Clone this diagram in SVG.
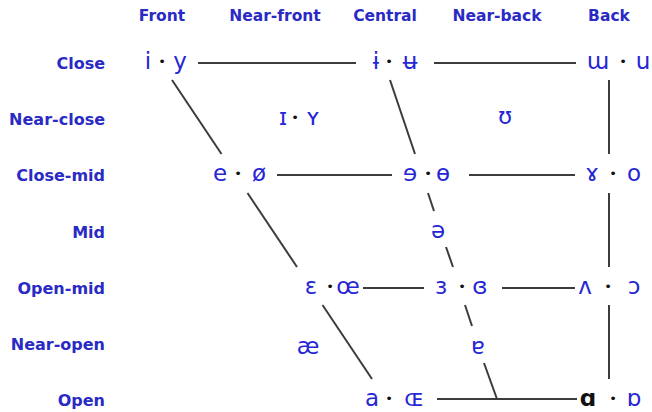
<svg xmlns="http://www.w3.org/2000/svg" width="652" height="412" viewBox="0 0 652 412">
<style>
.hdr{font-family:"DejaVu Sans",Verdana,sans-serif;font-weight:bold;font-size:15.5px;fill:#2a2ac4;text-anchor:middle}
.row{font-family:"DejaVu Sans",Verdana,sans-serif;font-weight:bold;font-size:16px;fill:#2a2ac4;text-anchor:end}
.v{font-family:"DejaVu Sans",sans-serif;font-size:23px;fill:#2626d4;text-anchor:middle}
.d{font-size:13px;fill:#111}
.b{font-weight:bold;fill:#111}
.ln line{stroke:#3c3c3c;stroke-width:2}
</style>
<rect width="652" height="412" fill="#fff"/>
<g id="headers">
<text class="hdr" x="162" y="21">Front</text>
<text class="hdr" x="275" y="21">Near-front</text>
<text class="hdr" x="385" y="21">Central</text>
<text class="hdr" x="497" y="21">Near-back</text>
<text class="hdr" x="609" y="21">Back</text>
</g>
<g id="rows">
<text class="row" x="105" y="69">Close</text>
<text class="row" x="105" y="125">Near-close</text>
<text class="row" x="105" y="181">Close-mid</text>
<text class="row" x="105" y="238">Mid</text>
<text class="row" x="105" y="294">Open-mid</text>
<text class="row" x="105" y="350">Near-open</text>
<text class="row" x="105" y="406">Open</text>
</g>
<g id="connectors" class="ln">
<line x1="198" y1="63" x2="356" y2="63"/>
<line x1="434" y1="63" x2="576" y2="63"/>
<line x1="277" y1="175" x2="392" y2="175"/>
<line x1="469" y1="175" x2="575" y2="175"/>
<line x1="363" y1="288" x2="424" y2="288"/>
<line x1="502" y1="288" x2="575" y2="288"/>
<line x1="437" y1="399" x2="577" y2="399"/>
<line x1="609" y1="80" x2="609" y2="154"/>
<line x1="609" y1="193" x2="609" y2="267"/>
<line x1="609" y1="305" x2="609" y2="379"/>
<line x1="172" y1="80" x2="221.5" y2="154"/>
<line x1="247.5" y1="193" x2="297" y2="267"/>
<line x1="322.5" y1="305" x2="372" y2="379"/>
<line x1="390" y1="80" x2="415" y2="154"/>
<line x1="428" y1="193" x2="434" y2="211"/>
<line x1="446" y1="247" x2="453" y2="267"/>
<line x1="465" y1="305" x2="472" y2="326"/>
<line x1="484" y1="363" x2="497" y2="399"/>
</g>
<g id="close-front"><text class="v"><tspan x="148" y="69">i</tspan><tspan class="d" x="162" y="66">•</tspan><tspan x="180" y="69">y</tspan></text></g>
<g id="close-central"><text class="v"><tspan x="376" y="69">ɨ</tspan><tspan class="d" x="389" y="66">•</tspan><tspan x="410" y="69">ʉ</tspan></text></g>
<g id="close-back"><text class="v"><tspan x="598" y="69">ɯ</tspan><tspan class="d" x="623" y="66">•</tspan><tspan x="643" y="69">u</tspan></text></g>
<g id="nearclose-nearfront"><text class="v"><tspan x="283" y="125">ɪ</tspan><tspan class="d" x="295" y="122">•</tspan><tspan x="313" y="125">ʏ</tspan></text></g>
<g id="nearclose-nearback"><text class="v" x="505" y="124">ʊ</text></g>
<g id="closemid-front"><text class="v"><tspan x="220" y="181">e</tspan><tspan class="d" x="238" y="178">•</tspan><tspan x="259" y="181">ø</tspan></text></g>
<g id="closemid-central"><text class="v"><tspan x="410" y="181">ɘ</tspan><tspan class="d" x="428" y="178">•</tspan><tspan x="443" y="181">ɵ</tspan></text></g>
<g id="closemid-back"><text class="v"><tspan x="592" y="181">ɤ</tspan><tspan class="d" x="613" y="178">•</tspan><tspan x="634" y="181">o</tspan></text></g>
<g id="mid-central"><text class="v" x="438" y="238">ə</text></g>
<g id="openmid-front"><text class="v"><tspan x="311" y="294">ɛ</tspan><tspan class="d" x="330" y="291">•</tspan><tspan x="348" y="294">œ</tspan></text></g>
<g id="openmid-central"><text class="v"><tspan x="441" y="294">ɜ</tspan><tspan class="d" x="462" y="291">•</tspan><tspan x="480" y="294">ɞ</tspan></text></g>
<g id="openmid-back"><text class="v"><tspan x="585" y="294">ʌ</tspan><tspan class="d" x="608" y="291">•</tspan><tspan x="634" y="294">ɔ</tspan></text></g>
<g id="nearopen-front"><text class="v" x="308" y="354">æ</text></g>
<g id="nearopen-central"><text class="v" x="478" y="354">ɐ</text></g>
<g id="open-front"><text class="v"><tspan x="372" y="406">a</tspan><tspan class="d" x="389" y="403">•</tspan><tspan x="414" y="406">ɶ</tspan></text></g>
<g id="open-back"><text class="v"><tspan class="b" x="588" y="406">ɑ</tspan><tspan class="d" x="613" y="403">•</tspan><tspan x="634" y="406">ɒ</tspan></text></g>
</svg>
